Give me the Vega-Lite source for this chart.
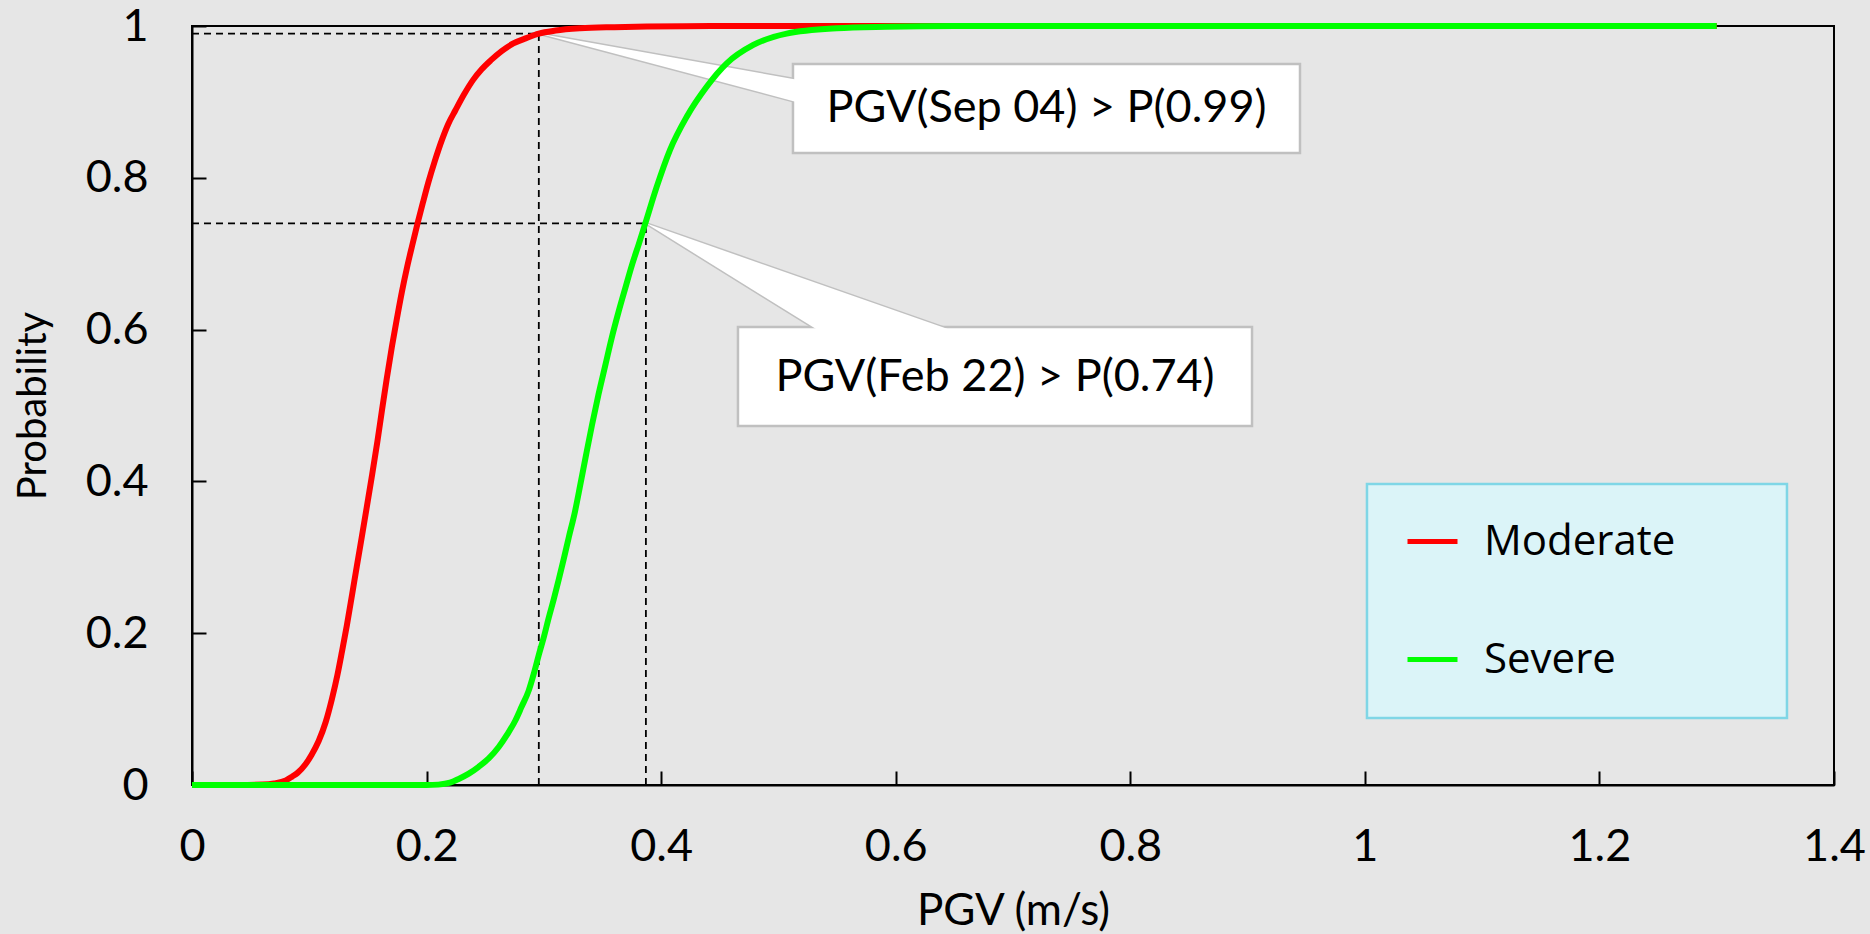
{
  "$schema": "https://vega.github.io/schema/vega-lite/v6.json",
  "width": 1642,
  "height": 759,
  "autosize": {"type": "none"},
  "padding": {"left": 192, "top": 26, "right": 36, "bottom": 149},
  "background": "#e6e6e6",
  "config": {
    "font": "Lato",
    "view": {"stroke": "#000000", "strokeWidth": 2},
    "axis": {
      "grid": false,
      "domainColor": "#000000",
      "domainWidth": 2,
      "tickColor": "#000000",
      "tickWidth": 2,
      "tickSize": -14,
      "labelColor": "#000000",
      "labelFont": "Lato",
      "labelFontSize": 45,
      "titleFont": "Lato",
      "titleFontWeight": "normal",
      "titleColor": "#000000",
      "labelFlush": false,
      "labelOverlap": false
    }
  },
  "encoding": {
    "x": {
      "field": "x",
      "type": "quantitative",
      "scale": {"domain": [0, 1.4], "nice": false, "zero": false},
      "axis": {
        "values": [0, 0.2, 0.4, 0.6, 0.8, 1, 1.2, 1.4],
        "format": ".1~f",
        "labelPadding": 53,
        "title": "PGV (m/s)",
        "titleFontSize": 44,
        "titlePadding": 20
      }
    },
    "y": {
      "field": "y",
      "type": "quantitative",
      "scale": {"domain": [0, 1], "nice": false},
      "axis": {
        "values": [0, 0.2, 0.4, 0.6, 0.8, 1],
        "format": ".1~f",
        "labelPadding": 58,
        "title": "Probability",
        "titleFontSize": 40,
        "titlePadding": 32
      }
    }
  },
  "layer": [
    {
      "data": {"values": [{"x": 1.0018, "x2": 1.3599, "y": 0.0883, "y2": 0.3966}]},
      "mark": {"type": "rect", "fill": "#dbf4f8", "stroke": "#7fd6e6", "strokeWidth": 2.5},
      "encoding": {"x2": {"field": "x2"}, "y2": {"field": "y2"}}
    },
    {
      "data": {"values": [
        {"x": 0.2957, "y": 0.99, "y2": 0.99},
        {"x": 0.516, "y": 0.9292, "y2": 0.8997}
      ]},
      "mark": {"type": "area", "orient": "vertical", "fill": "#ffffff", "stroke": "#c0c0c0", "strokeWidth": 3, "opacity": 1, "fillOpacity": 1},
      "encoding": {"y2": {"field": "y2"}}
    },
    {
      "data": {"values": [
        {"y": 0.74, "x": 0.387, "x2": 0.387},
        {"y": 0.598, "x": 0.5349, "x2": 0.6493}
      ]},
      "mark": {"type": "area", "orient": "horizontal", "fill": "#ffffff", "stroke": "#c0c0c0", "strokeWidth": 3, "opacity": 1, "fillOpacity": 1},
      "encoding": {"x2": {"field": "x2"}}
    },
    {
      "data": {"values": [
        {"x": 0.5124, "x2": 0.9447, "y": 0.8327, "y2": 0.95},
        {"x": 0.4655, "x2": 0.9038, "y": 0.473, "y2": 0.6034}
      ]},
      "mark": {"type": "rect", "fill": "#ffffff", "stroke": "#c0c0c0", "strokeWidth": 2.5},
      "encoding": {"x2": {"field": "x2"}, "y2": {"field": "y2"}}
    },
    {
      "data": {"values": [
        {"x": 0.2957, "y": 0.99, "y2": 0.99},
        {"x": 0.516, "y": 0.9292, "y2": 0.8997}
      ]},
      "mark": {"type": "area", "orient": "vertical", "fill": "#ffffff", "strokeWidth": 0, "opacity": 1, "fillOpacity": 1},
      "encoding": {"y2": {"field": "y2"}}
    },
    {
      "data": {"values": [
        {"y": 0.74, "x": 0.387, "x2": 0.387},
        {"y": 0.598, "x": 0.5349, "x2": 0.6493}
      ]},
      "mark": {"type": "area", "orient": "horizontal", "fill": "#ffffff", "strokeWidth": 0, "opacity": 1, "fillOpacity": 1},
      "encoding": {"x2": {"field": "x2"}}
    },
    {
      "data": {"values": [
        {"x": 0.7286, "y": 0.8914, "label": "PGV(Sep 04) > P(0.99)"},
        {"x": 0.6847, "y": 0.5382, "label": "PGV(Feb 22) > P(0.74)"}
      ]},
      "mark": {"type": "text", "font": "Lato", "fontSize": 45, "color": "#000000", "align": "center", "baseline": "middle"},
      "encoding": {"text": {"field": "label"}}
    },
    {
      "data": {"values": [
        {"x": 0, "x2": 0.2957, "y": 0.99, "y2": 0.99},
        {"x": 0.2957, "x2": 0.2957, "y": 0, "y2": 0.99},
        {"x": 0, "x2": 0.387, "y": 0.74, "y2": 0.74},
        {"x": 0.387, "x2": 0.387, "y": 0, "y2": 0.74}
      ]},
      "mark": {"type": "rule", "color": "#000000", "strokeWidth": 1.8, "strokeDash": [7, 5]},
      "encoding": {"x2": {"field": "x2"}, "y2": {"field": "y2"}}
    },
    {
      "data": {"values": [
        {"series": "Moderate", "x": 0, "y": 0},
        {"series": "Moderate", "x": 0.04, "y": 0},
        {"series": "Moderate", "x": 0.06, "y": 0.0005},
        {"series": "Moderate", "x": 0.07, "y": 0.002},
        {"series": "Moderate", "x": 0.08, "y": 0.006},
        {"series": "Moderate", "x": 0.0853, "y": 0.011},
        {"series": "Moderate", "x": 0.09, "y": 0.016},
        {"series": "Moderate", "x": 0.0966, "y": 0.027},
        {"series": "Moderate", "x": 0.102, "y": 0.04},
        {"series": "Moderate", "x": 0.108, "y": 0.058},
        {"series": "Moderate", "x": 0.114, "y": 0.083},
        {"series": "Moderate", "x": 0.1194, "y": 0.114},
        {"series": "Moderate", "x": 0.124, "y": 0.145},
        {"series": "Moderate", "x": 0.1279, "y": 0.176},
        {"series": "Moderate", "x": 0.132, "y": 0.21},
        {"series": "Moderate", "x": 0.1364, "y": 0.25},
        {"series": "Moderate", "x": 0.1405, "y": 0.288},
        {"series": "Moderate", "x": 0.1449, "y": 0.328},
        {"series": "Moderate", "x": 0.149, "y": 0.366},
        {"series": "Moderate", "x": 0.1535, "y": 0.408},
        {"series": "Moderate", "x": 0.158, "y": 0.452},
        {"series": "Moderate", "x": 0.162, "y": 0.494},
        {"series": "Moderate", "x": 0.166, "y": 0.535},
        {"series": "Moderate", "x": 0.1705, "y": 0.578},
        {"series": "Moderate", "x": 0.175, "y": 0.617},
        {"series": "Moderate", "x": 0.179, "y": 0.65},
        {"series": "Moderate", "x": 0.1835, "y": 0.683},
        {"series": "Moderate", "x": 0.1876, "y": 0.71},
        {"series": "Moderate", "x": 0.1925, "y": 0.741},
        {"series": "Moderate", "x": 0.197, "y": 0.768},
        {"series": "Moderate", "x": 0.2017, "y": 0.795},
        {"series": "Moderate", "x": 0.207, "y": 0.822},
        {"series": "Moderate", "x": 0.2131, "y": 0.85},
        {"series": "Moderate", "x": 0.2185, "y": 0.871},
        {"series": "Moderate", "x": 0.2246, "y": 0.889},
        {"series": "Moderate", "x": 0.232, "y": 0.91},
        {"series": "Moderate", "x": 0.2397, "y": 0.929},
        {"series": "Moderate", "x": 0.247, "y": 0.943},
        {"series": "Moderate", "x": 0.2549, "y": 0.955},
        {"series": "Moderate", "x": 0.264, "y": 0.967},
        {"series": "Moderate", "x": 0.274, "y": 0.977},
        {"series": "Moderate", "x": 0.285, "y": 0.984},
        {"series": "Moderate", "x": 0.2957, "y": 0.99},
        {"series": "Moderate", "x": 0.31, "y": 0.994},
        {"series": "Moderate", "x": 0.331, "y": 0.997},
        {"series": "Moderate", "x": 0.36, "y": 0.9985},
        {"series": "Moderate", "x": 0.388, "y": 0.9993},
        {"series": "Moderate", "x": 0.42, "y": 0.9997},
        {"series": "Moderate", "x": 0.45, "y": 1},
        {"series": "Moderate", "x": 0.6, "y": 1},
        {"series": "Moderate", "x": 1.3, "y": 1},
        {"series": "Severe", "x": 0, "y": 0},
        {"series": "Severe", "x": 0.2, "y": 0},
        {"series": "Severe", "x": 0.21, "y": 0.0005},
        {"series": "Severe", "x": 0.22, "y": 0.003},
        {"series": "Severe", "x": 0.2274, "y": 0.008},
        {"series": "Severe", "x": 0.236, "y": 0.015},
        {"series": "Severe", "x": 0.2444, "y": 0.024},
        {"series": "Severe", "x": 0.253, "y": 0.035},
        {"series": "Severe", "x": 0.2615, "y": 0.05},
        {"series": "Severe", "x": 0.2685, "y": 0.066},
        {"series": "Severe", "x": 0.2757, "y": 0.085},
        {"series": "Severe", "x": 0.281, "y": 0.103},
        {"series": "Severe", "x": 0.287, "y": 0.124},
        {"series": "Severe", "x": 0.2915, "y": 0.147},
        {"series": "Severe", "x": 0.2956, "y": 0.171},
        {"series": "Severe", "x": 0.3, "y": 0.195},
        {"series": "Severe", "x": 0.3041, "y": 0.22},
        {"series": "Severe", "x": 0.3085, "y": 0.245},
        {"series": "Severe", "x": 0.3126, "y": 0.27},
        {"series": "Severe", "x": 0.317, "y": 0.298},
        {"series": "Severe", "x": 0.3212, "y": 0.326},
        {"series": "Severe", "x": 0.3265, "y": 0.36},
        {"series": "Severe", "x": 0.331, "y": 0.395},
        {"series": "Severe", "x": 0.336, "y": 0.435},
        {"series": "Severe", "x": 0.341, "y": 0.474},
        {"series": "Severe", "x": 0.3465, "y": 0.514},
        {"series": "Severe", "x": 0.3524, "y": 0.553},
        {"series": "Severe", "x": 0.358, "y": 0.59},
        {"series": "Severe", "x": 0.3638, "y": 0.624},
        {"series": "Severe", "x": 0.3695, "y": 0.655},
        {"series": "Severe", "x": 0.3751, "y": 0.685},
        {"series": "Severe", "x": 0.381, "y": 0.713},
        {"series": "Severe", "x": 0.3865, "y": 0.74},
        {"series": "Severe", "x": 0.3962, "y": 0.788},
        {"series": "Severe", "x": 0.4075, "y": 0.8366},
        {"series": "Severe", "x": 0.4218, "y": 0.8805},
        {"series": "Severe", "x": 0.4388, "y": 0.92},
        {"series": "Severe", "x": 0.4559, "y": 0.9508},
        {"series": "Severe", "x": 0.4786, "y": 0.975},
        {"series": "Severe", "x": 0.507, "y": 0.99},
        {"series": "Severe", "x": 0.5497, "y": 0.997},
        {"series": "Severe", "x": 0.592, "y": 0.999},
        {"series": "Severe", "x": 0.65, "y": 1},
        {"series": "Severe", "x": 1.3, "y": 1}
      ]},
      "mark": {"type": "line", "strokeWidth": 6, "interpolate": "monotone"},
      "encoding": {
        "color": {
          "field": "series",
          "type": "nominal",
          "scale": {"domain": ["Moderate", "Severe"], "range": ["#ff0000", "#00ff00"]},
          "legend": {
            "orient": "none",
            "legendX": 1213,
            "legendY": 488,
            "title": null,
            "symbolType": "stroke",
            "symbolSize": 2500,
            "symbolStrokeWidth": 5,
            "labelFont": "Open Sans",
            "labelFontSize": 42,
            "labelColor": "#000000",
            "labelLimit": 500,
            "labelOffset": 24,
            "rowPadding": 69,
            "padding": 0
          }
        }
      }
    }
  ]
}
